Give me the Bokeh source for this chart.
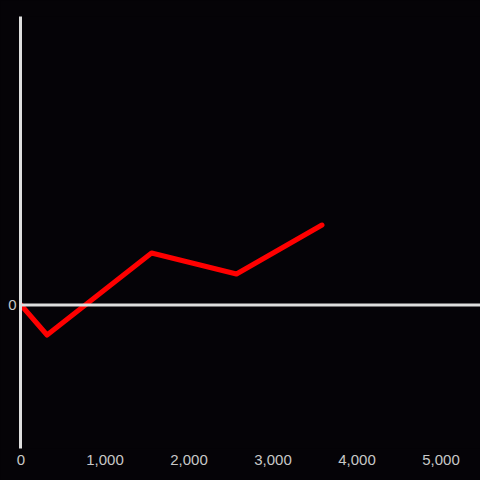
from bokeh.plotting import figure
from bokeh.models import Range1d, FixedTicker, NumeralTickFormatter, Span
from bokeh.embed import file_html
from bokeh.resources import INLINE

# Data
x_values = [0, 310, 1554, 2565, 3583]
y_values = [0, -30, 52, 31, 80]
x_ticks = [0, 1000, 2000, 3000, 4000, 5000]
y_ticks = [0]

BG = "#050307"
AXIS = "#dedede"
LABEL = "#c8c8c8"

p = figure(width=480, height=480, output_backend="svg", toolbar_location=None,
           x_range=Range1d(-6, 5470), y_range=Range1d(-143.5, 288.5),
           min_border_left=20, min_border_right=0, min_border_top=16, min_border_bottom=32)

p.background_fill_color = BG
p.border_fill_color = BG
p.outline_line_color = None
p.grid.visible = False

# x axis (labels only)
xa = p.xaxis[0]
xa.ticker = FixedTicker(ticks=x_ticks)
xa.formatter = NumeralTickFormatter(format="0,0")
xa.axis_line_color = None
xa.major_tick_line_color = None
xa.minor_tick_line_color = None
xa.major_tick_out = 0
xa.major_tick_in = 0
xa.major_label_standoff = 6
xa.major_label_text_color = LABEL
xa.major_label_text_font = "Liberation Sans"
xa.major_label_text_font_size = "15px"

# y axis: vertical line + "0"
ya = p.yaxis[0]
ya.ticker = FixedTicker(ticks=y_ticks)
ya.axis_line_color = AXIS
ya.axis_line_width = 3
ya.major_tick_line_color = None
ya.minor_tick_line_color = None
ya.major_tick_out = 0
ya.major_tick_in = 0
ya.major_label_standoff = 4
ya.major_label_text_color = LABEL
ya.major_label_text_font = "Liberation Sans"
ya.major_label_text_font_size = "15px"

# horizontal zero line
p.add_layout(Span(location=0, dimension="width", line_color=AXIS, line_width=3))

p.line(x_values, y_values, line_color="#ff0000", line_width=5,
       line_join="round", line_cap="round")

html = file_html(p, INLINE)
style = "<style>html, body { background: %s !important; }</style>" % BG
html = html.replace("</head>", style + "</head>", 1)
open("out.html", "w").write(html)
